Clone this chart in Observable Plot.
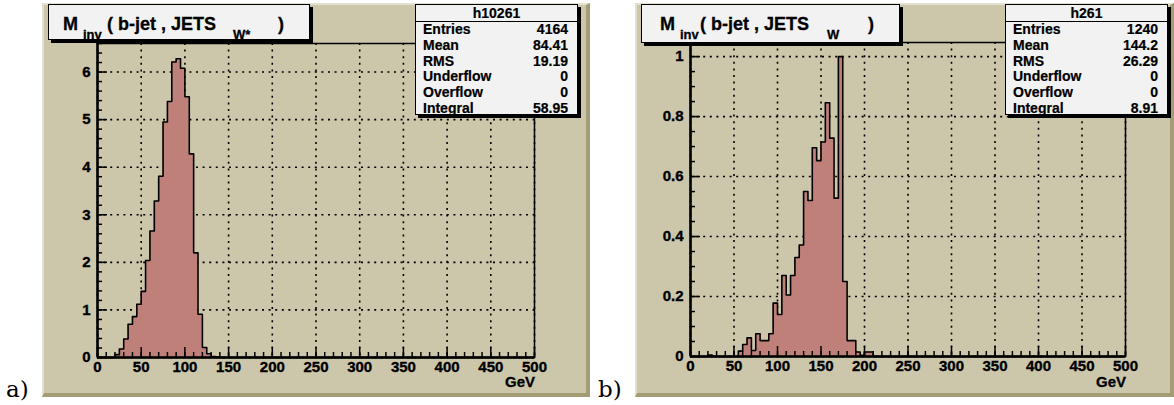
<!DOCTYPE html>
<html><head><meta charset="utf-8">
<script src="https://cdn.jsdelivr.net/npm/d3@7"></script>
<script src="https://cdn.jsdelivr.net/npm/@observablehq/plot@0.6"></script>
<style>
body{margin:0;background:#fff;}
#wrap{position:relative;width:1174px;height:405px;overflow:hidden;font-family:"Liberation Sans",Arial,sans-serif;}
.panel{position:absolute;box-sizing:border-box;background:#ccc6aa;border-style:solid;border-width:2px 4px 4px 2px;border-color:#e4e0cf #a39c74 #a39c74 #e4e0cf;}
.chart{position:absolute;}
.chart text{font-family:"Liberation Sans",Arial,sans-serif !important;font-weight:bold !important;font-size:15px;stroke:#000;stroke-width:0.35px;}
.title{position:absolute;box-sizing:border-box;background:#f2f2f2;border:1px solid #000;box-shadow:3px 3px 0 #000;font-weight:bold;font-size:18px;white-space:pre;line-height:1;-webkit-text-stroke:0.3px #000;}
.title .t{position:absolute;top:10px;}
.title .s{position:absolute;top:23px;font-size:13px;}
.stats{position:absolute;box-sizing:border-box;background:#f2f2f2;border:1px solid #000;box-shadow:3px 3px 0 #000;font-weight:bold;font-size:14px;line-height:1;-webkit-text-stroke:0.2px #000;}
.stats .hd{height:16px;border-bottom:1px solid #000;text-align:center;line-height:16px;}
.stats .row{display:flex;justify-content:space-between;height:15.8px;line-height:15.8px;padding:0 9px 0 7px;}
.lab{position:absolute;font-family:"DejaVu Serif","Liberation Serif",serif;font-size:23px;}
.gev{position:absolute;font-weight:bold;font-size:15px;-webkit-text-stroke:0.3px #000;}
</style></head>
<body><div id="wrap"></div>
<script>
// ---- data ----
const binWidth = 5;             // GeV
const xTicks = [0, 50, 100, 150, 200, 250, 300, 350, 400, 450, 500];

// panel a) : M_inv(b-jet, JETS_W*) , bins starting at 20 GeV
const aStart = 20;
const aValues = [0.06, 0.18, 0.39, 0.70, 0.86, 1.12, 1.39, 2.04, 2.66, 3.29, 3.81, 4.95,
                 5.38, 6.21, 6.28, 6.08, 5.48, 4.28, 2.20, 0.91, 0.21, 0.08, 0.02, 0.01];
const aYTicks = [0, 1, 2, 3, 4, 5, 6];
const aYMax = 6.6;
const aStats = [["Entries","4164"],["Mean","84.41"],["RMS","19.19"],["Underflow","0"],["Overflow","0"],["Integral","58.95"]];
const aName = "h10261";

// panel b) : M_inv(b-jet, JETS_W) , bins starting at 20 GeV
const bStart = 20;
const bValues = [0.005, 0, 0, 0, 0, 0, 0, 0.018, 0.04, 0.062, 0.02, 0.076, 0.053, 0.053, 0.076,
                 0.178, 0.14, 0.27, 0.205, 0.27, 0.33, 0.372, 0.55, 0.52, 0.696, 0.653, 0.715,
                 0.846, 0.728, 0.528, 1.0, 0.25, 0.053, 0.053, 0.015, 0.004, 0.015, 0.015];
const bYTicks = [0, 0.2, 0.4, 0.6, 0.8, 1];
const bYMax = 1.047;
const bStats = [["Entries","1240"],["Mean","144.2"],["RMS","26.29"],["Underflow","0"],["Overflow","0"],["Integral","8.91"]];
const bName = "h261";

// ---- helpers ----
function fullBins(start, values){
  const out = [];
  for (let x = 0; x < 500; x += binWidth){
    const i = Math.round((x - start)/binWidth);
    out.push({x, y: (i >= 0 && i < values.length) ? values[i] : 0});
  }
  out.push({x: 500, y: 0});
  return out;
}
const font = '"Liberation Sans", Arial, sans-serif';

function histo({start, values, yTicks, yMax, yMinorStep, width, height, ml, mr, mt, mb}){
  const data = fullBins(start, values);
  const fw = width - ml - mr, fh = height - mt - mb;
  const yMinor = d3.range(0, yMax + 1e-9, yMinorStep);
  const svg = Plot.plot({
    width, height, marginLeft: ml, marginRight: mr, marginTop: mt, marginBottom: mb,
    style: {background: "transparent", overflow: "visible", fontFamily: font, fontWeight: "bold", fontSize: "15px"},
    x: {domain: [0, 500]},
    y: {domain: [0, yMax]},
    marks: [
      Plot.gridX(xTicks, {stroke: "#000", strokeOpacity: 1, strokeWidth: 1.6, strokeDasharray: "2,4.6"}),
      Plot.gridY(yTicks, {stroke: "#000", strokeOpacity: 1, strokeWidth: 1.6, strokeDasharray: "2,4.6"}),
      Plot.areaY(data, {x: "x", y: "y", curve: "step-after", fill: "#c0807a"}),
      Plot.line(data, {x: "x", y: "y", curve: "step-after", stroke: "#000", strokeWidth: 1.6}),
      Plot.ruleX(d3.range(0, 501, 10), {x: d => d, stroke: "#000", strokeWidth: 1.5, insetTop: fh - 5}),
      Plot.ruleX(xTicks, {x: d => d, stroke: "#000", strokeWidth: 1.5, insetTop: fh - 10}),
      Plot.ruleY(yMinor, {y: d => d, stroke: "#000", strokeWidth: 1.5, insetRight: fw - 5}),
      Plot.ruleY(yTicks, {y: d => d, stroke: "#000", strokeWidth: 1.5, insetRight: fw - 10}),
      Plot.frame({stroke: "#000", strokeWidth: 1.5}),
      Plot.ruleX([0], {stroke: "#000", strokeWidth: 2.5}),
      Plot.ruleY([0], {stroke: "#000", strokeWidth: 2.5}),
      Plot.axisX({ticks: xTicks, tickSize: 0, tickPadding: 4, tickFormat: d3.format("d"), label: null,
                  fontSize: 15, fontWeight: "bold", fill: "#000"}),
      Plot.axisY({ticks: yTicks, tickSize: 0, tickPadding: 7, tickFormat: d3.format("~g"), label: null,
                  fontSize: 15, fontWeight: "bold", fill: "#000"})
    ]
  });
  svg.querySelectorAll("text").forEach(t => { t.style.fontWeight = "bold"; t.style.fontFamily = font; });
  return svg;
}

const wrap = document.getElementById("wrap");
function el(cls, css, html){
  const d = document.createElement("div");
  d.className = cls; Object.assign(d.style, css); if (html != null) d.innerHTML = html;
  wrap.appendChild(d); return d;
}
function statsBox(name, rows, css){
  const d = el("stats", css);
  d.innerHTML = `<div class="hd">${name}</div>` +
    rows.map(([k,v]) => `<div class="row"><span>${k}</span><span>${v}</span></div>`).join("");
}

// panel a
el("panel", {left: "42px", top: "3px", width: "548px", height: "394px"});
const ca = histo({start: aStart, values: aValues, yTicks: aYTicks, yMax: aYMax, yMinorStep: 0.2,
                  width: 548, height: 394, ml: 55, mr: 56, mt: 40, mb: 40});
ca.classList.add("chart"); Object.assign(ca.style, {left: "42px", top: "3px", position: "absolute"});
wrap.appendChild(ca);
el("title", {left: "48px", top: "4px", width: "262px", height: "36px"},
   `<span class="t" style="left:14px">M</span><span class="s" style="left:34px">inv</span>` +
   `<span class="t" style="left:58px">( b-jet , JETS</span><span class="s" style="left:184px">W*</span>` +
   `<span class="t" style="left:229px">)</span>`);
statsBox(aName, aStats, {left: "415px", top: "4px", width: "163px", height: "111px"});
el("gev", {left: "505px", top: "373px"}, "GeV");
el("lab", {left: "6px", top: "376px"}, "a)");

// panel b
el("panel", {left: "635px", top: "3px", width: "539px", height: "394px"});
const cb = histo({start: bStart, values: bValues, yTicks: bYTicks, yMax: bYMax, yMinorStep: 0.05,
                  width: 539, height: 394, ml: 55, mr: 49, mt: 39, mb: 41});
cb.classList.add("chart"); Object.assign(cb.style, {left: "635px", top: "3px", position: "absolute"});
wrap.appendChild(cb);
el("title", {left: "641px", top: "4px", width: "259px", height: "39px"},
   `<span class="t" style="left:18px">M</span><span class="s" style="left:38px">inv</span>` +
   `<span class="t" style="left:58px">( b-jet , JETS</span><span class="s" style="left:185px">W</span>` +
   `<span class="t" style="left:226px">)</span>`);
statsBox(bName, bStats, {left: "1005px", top: "4px", width: "163px", height: "111px"});
el("gev", {left: "1096px", top: "373px"}, "GeV");
el("lab", {left: "598px", top: "376px"}, "b)");
</script></body></html>
